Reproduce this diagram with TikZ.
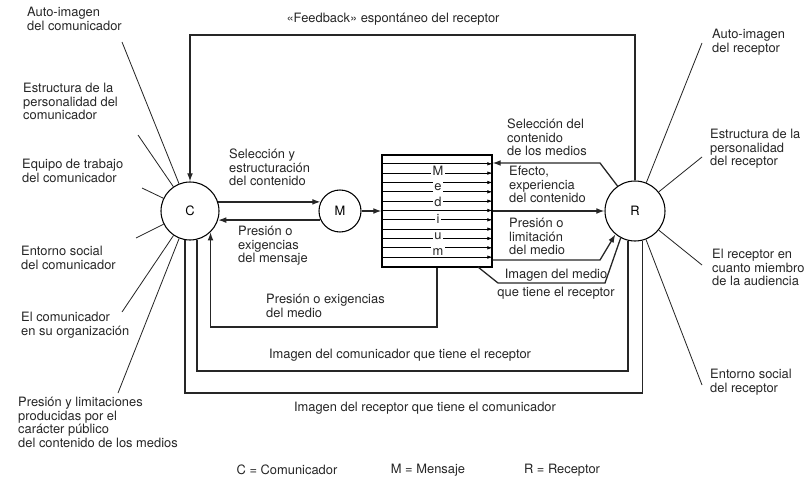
\documentclass[tikz,border=0pt]{standalone}
\usepackage{fontspec}
\setmainfont{TeX Gyre Heros}
\usetikzlibrary{arrows.meta}

\tikzset{
	txt/.style={anchor=north west, align=left, inner sep=0pt, font=\fontsize{11}{11.5}\selectfont, text=black!85},
	ctxt/.style={txt, anchor=center, align=center},
	circ/.style={draw, circle, inner sep=0pt, line width=0.9pt, font=\fontsize{11}{11.5}\selectfont},
	ray/.style={line width=0.7pt, black!85},
	wire/.style={line width=1.1pt, black!85},
	arr/.style={-{Latex[length=7pt,width=5pt]}},
	smallarr/.style={-{Latex[length=4.5pt,width=3pt]}},
}

\begin{document}
\begin{tikzpicture}[x=0.03cm, y=-0.03cm]
			%%%%% START %%%%%
			\useasboundingbox (0,0) rectangle (804,478);
			
			\node[circ, minimum size=1.74cm] (C) at (190,211) {C};
			\node[circ, minimum size=1.26cm] (M) at (340,211) {M};
			\node[circ, minimum size=1.8cm] (R) at (635,211) {R};
			\node[draw, line width=0.9pt, minimum width=3.3cm, minimum height=3.36cm, inner sep=0pt] (medium) at (437,211) {};
			
			\foreach \i in {1,...,11}
				\draw[line width=0.6pt, smallarr] ([yshift=-\i*0.28cm]medium.north west) -- ([yshift=-\i*0.28cm]medium.north east);
			\foreach \l/\y in {M/171, e/187, d/202, i/219, u/236, m/252}
				\node[fill=white, inner sep=1pt, font=\fontsize{11}{11.5}\selectfont, text=black!85] (l\l) at (438,\y) {\l};
			
			\draw[wire, arr] (C.18) -- (M.155 |- C.18);
			\draw[wire, arr] (M.205) -- (C.-18 |- M.205);
			\draw[wire, arr] (M.east) -- (medium.west);
			\draw[wire, arr] (medium.east) -- (R.west);
			
			\coordinate (fbtop) at (400,35);
			\draw[wire, arr] (R.north) |- (fbtop) -| (C.north);
			
			\coordinate (selknee) at (600,163);
			\draw[wire, arr] (R.125) -- (selknee) -- (selknee -| medium.east);
			\coordinate (preknee) at (600,260);
			\draw[wire, arr] (preknee -| medium.east) -- (preknee) -- (R.-130);
			\coordinate (imgA) at (478,267);
			\coordinate (imgB) at (498,283);
			\coordinate (imgC) at (605,283);
			\draw[wire] (imgA) -- (imgB) -- (imgC) -- (R.-118);
			
			\coordinate (medlow) at (300,327);
			\draw[wire, arr] (medium.south) |- (medlow) -| (C.-46);
			\coordinate (comlow) at (400,371);
			\draw[wire] (C.-76) |- (comlow) -| (R.-103.5);
			\coordinate (reclow) at (400,393);
			\draw[wire] (C.-100) |- (reclow) -| (R.-76.5);
			
			\coordinate (cauto) at (122,42);
			\coordinate (cestr) at (138,135);
			\coordinate (cequi) at (142,188);
			\coordinate (centor) at (136,238);
			\coordinate (corga) at (122,312);
			\coordinate (cpres) at (118,393);
			\foreach \c in {cauto,cestr,cequi,centor,corga,cpres}
				\draw[ray] (\c) -- (C);
			
			\coordinate (rauto) at (702,43);
			\coordinate (restr) at (702,157);
			\coordinate (raudi) at (702,265);
			\coordinate (rentor) at (702,385);
			\foreach \c in {rauto,restr,raudi,rentor}
				\draw[ray] (\c) -- (R);
			
			\node[txt] (tcauto) at (27,7) {Auto-imagen\\del comunicador};
			\node[txt] (tcestr) at (23,83) {Estructura de la\\personalidad del\\comunicador};
			\node[txt] (tcequi) at (22,159) {Equipo de trabajo\\del comunicador};
			\node[txt] (tcentor) at (21,246) {Entorno social\\del comunicador};
			\node[txt] (tcorga) at (21,312) {El comunicador\\en su organización};
			\node[txt] (tcpres) at (18,397) {Presión y limitaciones\\producidas por el\\carácter público\\del contenido de los medios};
			
			\node[txt] (trauto) at (712,29) {Auto-imagen\\del receptor};
			\node[txt] (trestr) at (710,129) {Estructura de la\\personalidad\\del receptor};
			\node[txt] (traudi) at (712,249) {El receptor en\\cuanto miembro\\de la audiencia};
			\node[txt] (trentor) at (710,369) {Entorno social\\del receptor};
			
			\node[txt] (tsel) at (229,149) {Selección y\\estructuración\\del contenido};
			\node[txt] (tmens) at (238,226) {Presión o\\exigencias\\del mensaje};
			\node[txt] (tmedio) at (266,294) {Presión o exigencias\\del medio};
			\node[txt] (tselr) at (507,119) {Selección del\\contenido\\de los medios};
			\node[txt] (tefec) at (509,166) {Efecto,\\experiencia\\del contenido};
			\node[txt] (tlimi) at (509,218) {Presión o\\limitación\\del medio};
			\node[ctxt] (timgm) at (556,284) {Imagen del medio\\[4pt]que tiene el receptor};
			\node[ctxt] (timgc) at (400,355) {Imagen del comunicador que tiene el receptor};
			\node[ctxt] (timgr) at (425,408) {Imagen del receptor que tiene el comunicador};
			\node[ctxt] (tfeed) at (393,19) {«Feedback» espontáneo del receptor};
			
			\node[ctxt] (legC) at (287,470) {C = Comunicador};
			\node[ctxt] (legM) at (428,470) {M = Mensaje};
			\node[ctxt] (legR) at (562,470) {R = Receptor};
			
			%%%%% END %%%%%
\end{tikzpicture}
\end{document}
